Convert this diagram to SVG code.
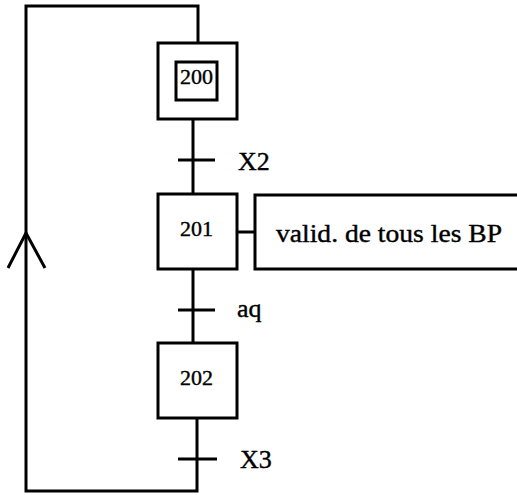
<svg xmlns="http://www.w3.org/2000/svg" width="517" height="495" viewBox="0 0 517 495">
<style>
.box{fill:#fff;stroke:#000;stroke-width:3}
.ln{fill:none;stroke:#000;stroke-width:3}
.num{font-family:"Liberation Serif",serif;font-size:22px;fill:#000;stroke:#000;stroke-width:0.4}
.lbl{font-family:"Liberation Serif",serif;font-size:26px;fill:#000;stroke:#000;stroke-width:0.4}
</style>
<defs>
<clipPath id="c200"><rect x="176" y="62" width="41" height="38"/></clipPath>
</defs>
<rect width="517" height="495" fill="#fff"/>
<g id="connectors">
<polyline class="ln" points="198,43 198,6 26,6 26,491 197,491 197,418"/>
<polyline class="ln" points="8,268 26,233 45,268"/>
<line class="ln" x1="193" y1="119" x2="193" y2="194"/>
<line class="ln" x1="178" y1="160" x2="215" y2="160"/>
<line class="ln" x1="193" y1="269" x2="193" y2="343"/>
<line class="ln" x1="178" y1="310" x2="215" y2="310"/>
<line class="ln" x1="178" y1="459" x2="217" y2="459"/>
<line class="ln" x1="237" y1="232" x2="255" y2="232"/>
</g>
<g id="step200">
<rect class="box" x="158" y="43" width="79" height="76"/>
<text class="num" x="180" y="84" clip-path="url(#c200)">200</text>
<rect class="ln" x="176" y="62" width="41" height="38"/>
</g>
<g id="step201">
<rect class="box" x="158" y="194" width="79" height="75"/>
<text class="num" x="180" y="236">201</text>
</g>
<g id="step202">
<rect class="box" x="158" y="343" width="79" height="75"/>
<text class="num" x="180" y="385">202</text>
</g>
<g id="action201">
<rect class="box" x="255" y="195" width="270" height="74"/>
<text class="lbl" x="276" y="242" font-size="29" textLength="226" lengthAdjust="spacingAndGlyphs">valid. de tous les BP</text>
</g>
<g id="labels">
<text class="lbl" x="238" y="170">X2</text>
<text class="lbl" x="237" y="317">aq</text>
<text class="lbl" x="240" y="468">X3</text>
</g>
</svg>
